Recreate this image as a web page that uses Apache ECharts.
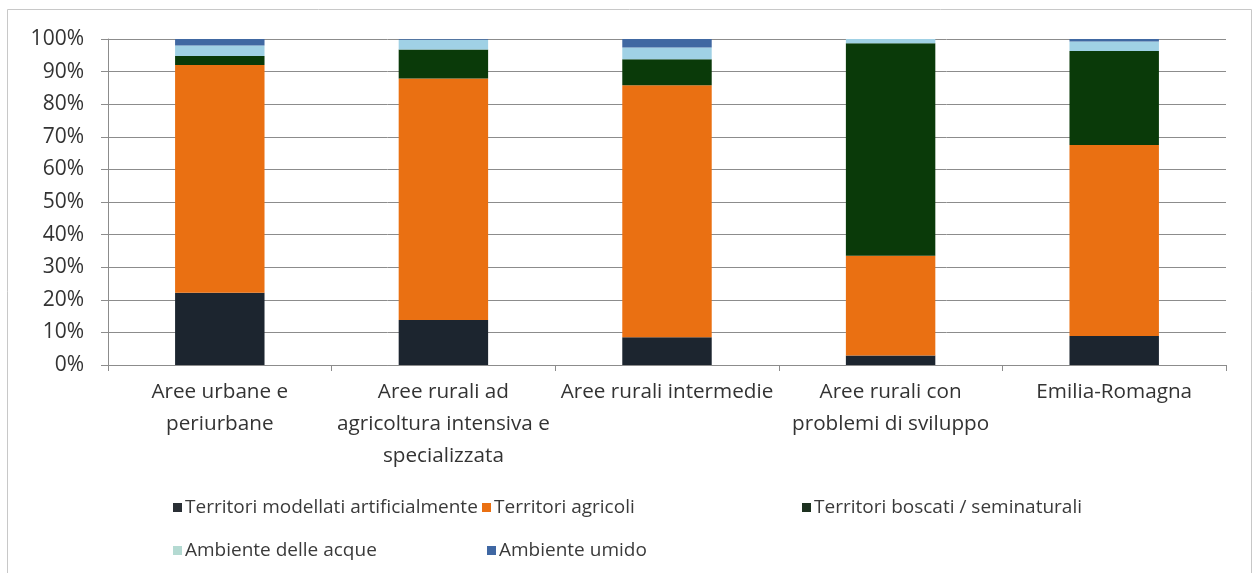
<!DOCTYPE html>
<html>
<head>
<meta charset="utf-8">
<script src="https://cdn.jsdelivr.net/npm/echarts@6/dist/echarts.min.js"></script>
<style>
  html, body { margin: 0; padding: 0; background: #fff; }
  #chart { width: 1254px; height: 573px; }
</style>
</head>
<body>
<div id="chart"></div>
<script>
// categorie (con gli a capo come nel grafico originale)
const categories = [
  'Aree urbane e\nperiurbane',
  'Aree rurali ad\nagricoltura intensiva e\nspecializzata',
  'Aree rurali intermedie',
  'Aree rurali con\nproblemi di sviluppo',
  'Emilia-Romagna'
];
const yTicks = [0, 10, 20, 30, 40, 50, 60, 70, 80, 90, 100];

// quote percentuali
const artificiali = [22.2, 13.8, 8.5, 2.9, 8.9];
const agricoli = [69.8, 74.1, 77.3, 30.6, 58.6];
const boscati = [2.8, 8.9, 8.0, 65.2, 28.8];
const acque = [3.2, 3.0, 3.6, 1.3, 2.9];
const umido = [2.0, 0.2, 2.6, 0.0, 0.8];

const seriesNames = [
  'Territori modellati artificialmente',
  'Territori agricoli',
  'Territori boscati / seminaturali',
  'Ambiente delle acque',
  'Ambiente umido'
];
const seriesData = [artificiali, agricoli, boscati, acque, umido];
const colors = ['#1c252f', '#ea7012', '#0a3a09', '#a0d1e5', '#4068a2'];
const legendColors = ['#2a2f35', '#ea7012', '#1d3120', '#b4dad2', '#3f67a3'];

const FONT = '"Open Sans", "Noto Sans", sans-serif';

const chart = echarts.init(document.getElementById('chart'));

// legenda in due righe, come in Excel
const legendPos = [
  { left: 168, top: 493 },
  { left: 477, top: 493 },
  { left: 797, top: 493 },
  { left: 168, top: 536 },
  { left: 482, top: 536 }
];
const legends = seriesNames.map((name, i) => ({
  left: legendPos[i].left,
  top: legendPos[i].top,
  orient: 'horizontal',
  itemWidth: 9,
  itemHeight: 9,
  itemGap: 0,
  icon: 'rect',
  selectedMode: false,
  data: [{ name: name, itemStyle: { color: legendColors[i] } }],
  textStyle: { fontFamily: FONT, fontSize: 19, color: '#3a3a3a', padding: [0, 0, 0, -2] }
}));

const series = seriesNames.map((name, i) => ({
  name: name,
  type: 'bar',
  stack: 'tot',
  barWidth: '40%',
  itemStyle: { color: colors[i] },
  data: seriesData[i]
}));

const option = {
  animation: false,
  backgroundColor: '#ffffff',
  textStyle: { fontFamily: FONT },
  graphic: [{
    type: 'rect',
    shape: { x: 7.5, y: 9.5, width: 1244, height: 580 },
    style: { fill: 'none', stroke: '#c8c8c8', lineWidth: 1 },
    silent: true
  }],
  legend: legends,
  grid: { left: 108, right: 28, top: 39, bottom: 208, containLabel: false },
  xAxis: {
    type: 'category',
    data: categories,
    axisLine: { show: true, lineStyle: { color: '#8c8c8c', width: 1 } },
    axisTick: { show: true, length: 6, alignWithLabel: false, lineStyle: { color: '#8c8c8c' } },
    axisLabel: {
      interval: 0,
      margin: 11,
      fontFamily: FONT,
      fontSize: 20.7,
      lineHeight: 32,
      color: '#333333'
    }
  },
  yAxis: {
    type: 'value',
    min: 0,
    max: 100,
    interval: 10,
    axisLine: { show: true, lineStyle: { color: '#8c8c8c', width: 1 } },
    axisTick: { show: true, length: 7, lineStyle: { color: '#8c8c8c' } },
    splitLine: { show: true, lineStyle: { color: '#8c8c8c', width: 1 } },
    axisLabel: {
      margin: 24,
      fontFamily: FONT,
      fontSize: 21,
      color: '#333333',
      formatter: (v) => yTicks.includes(v) ? v + '%' : ''
    }
  },
  series: series
};

chart.setOption(option);
window.addEventListener('resize', function () {
  chart.resize();
});
</script>
</body>
</html>
